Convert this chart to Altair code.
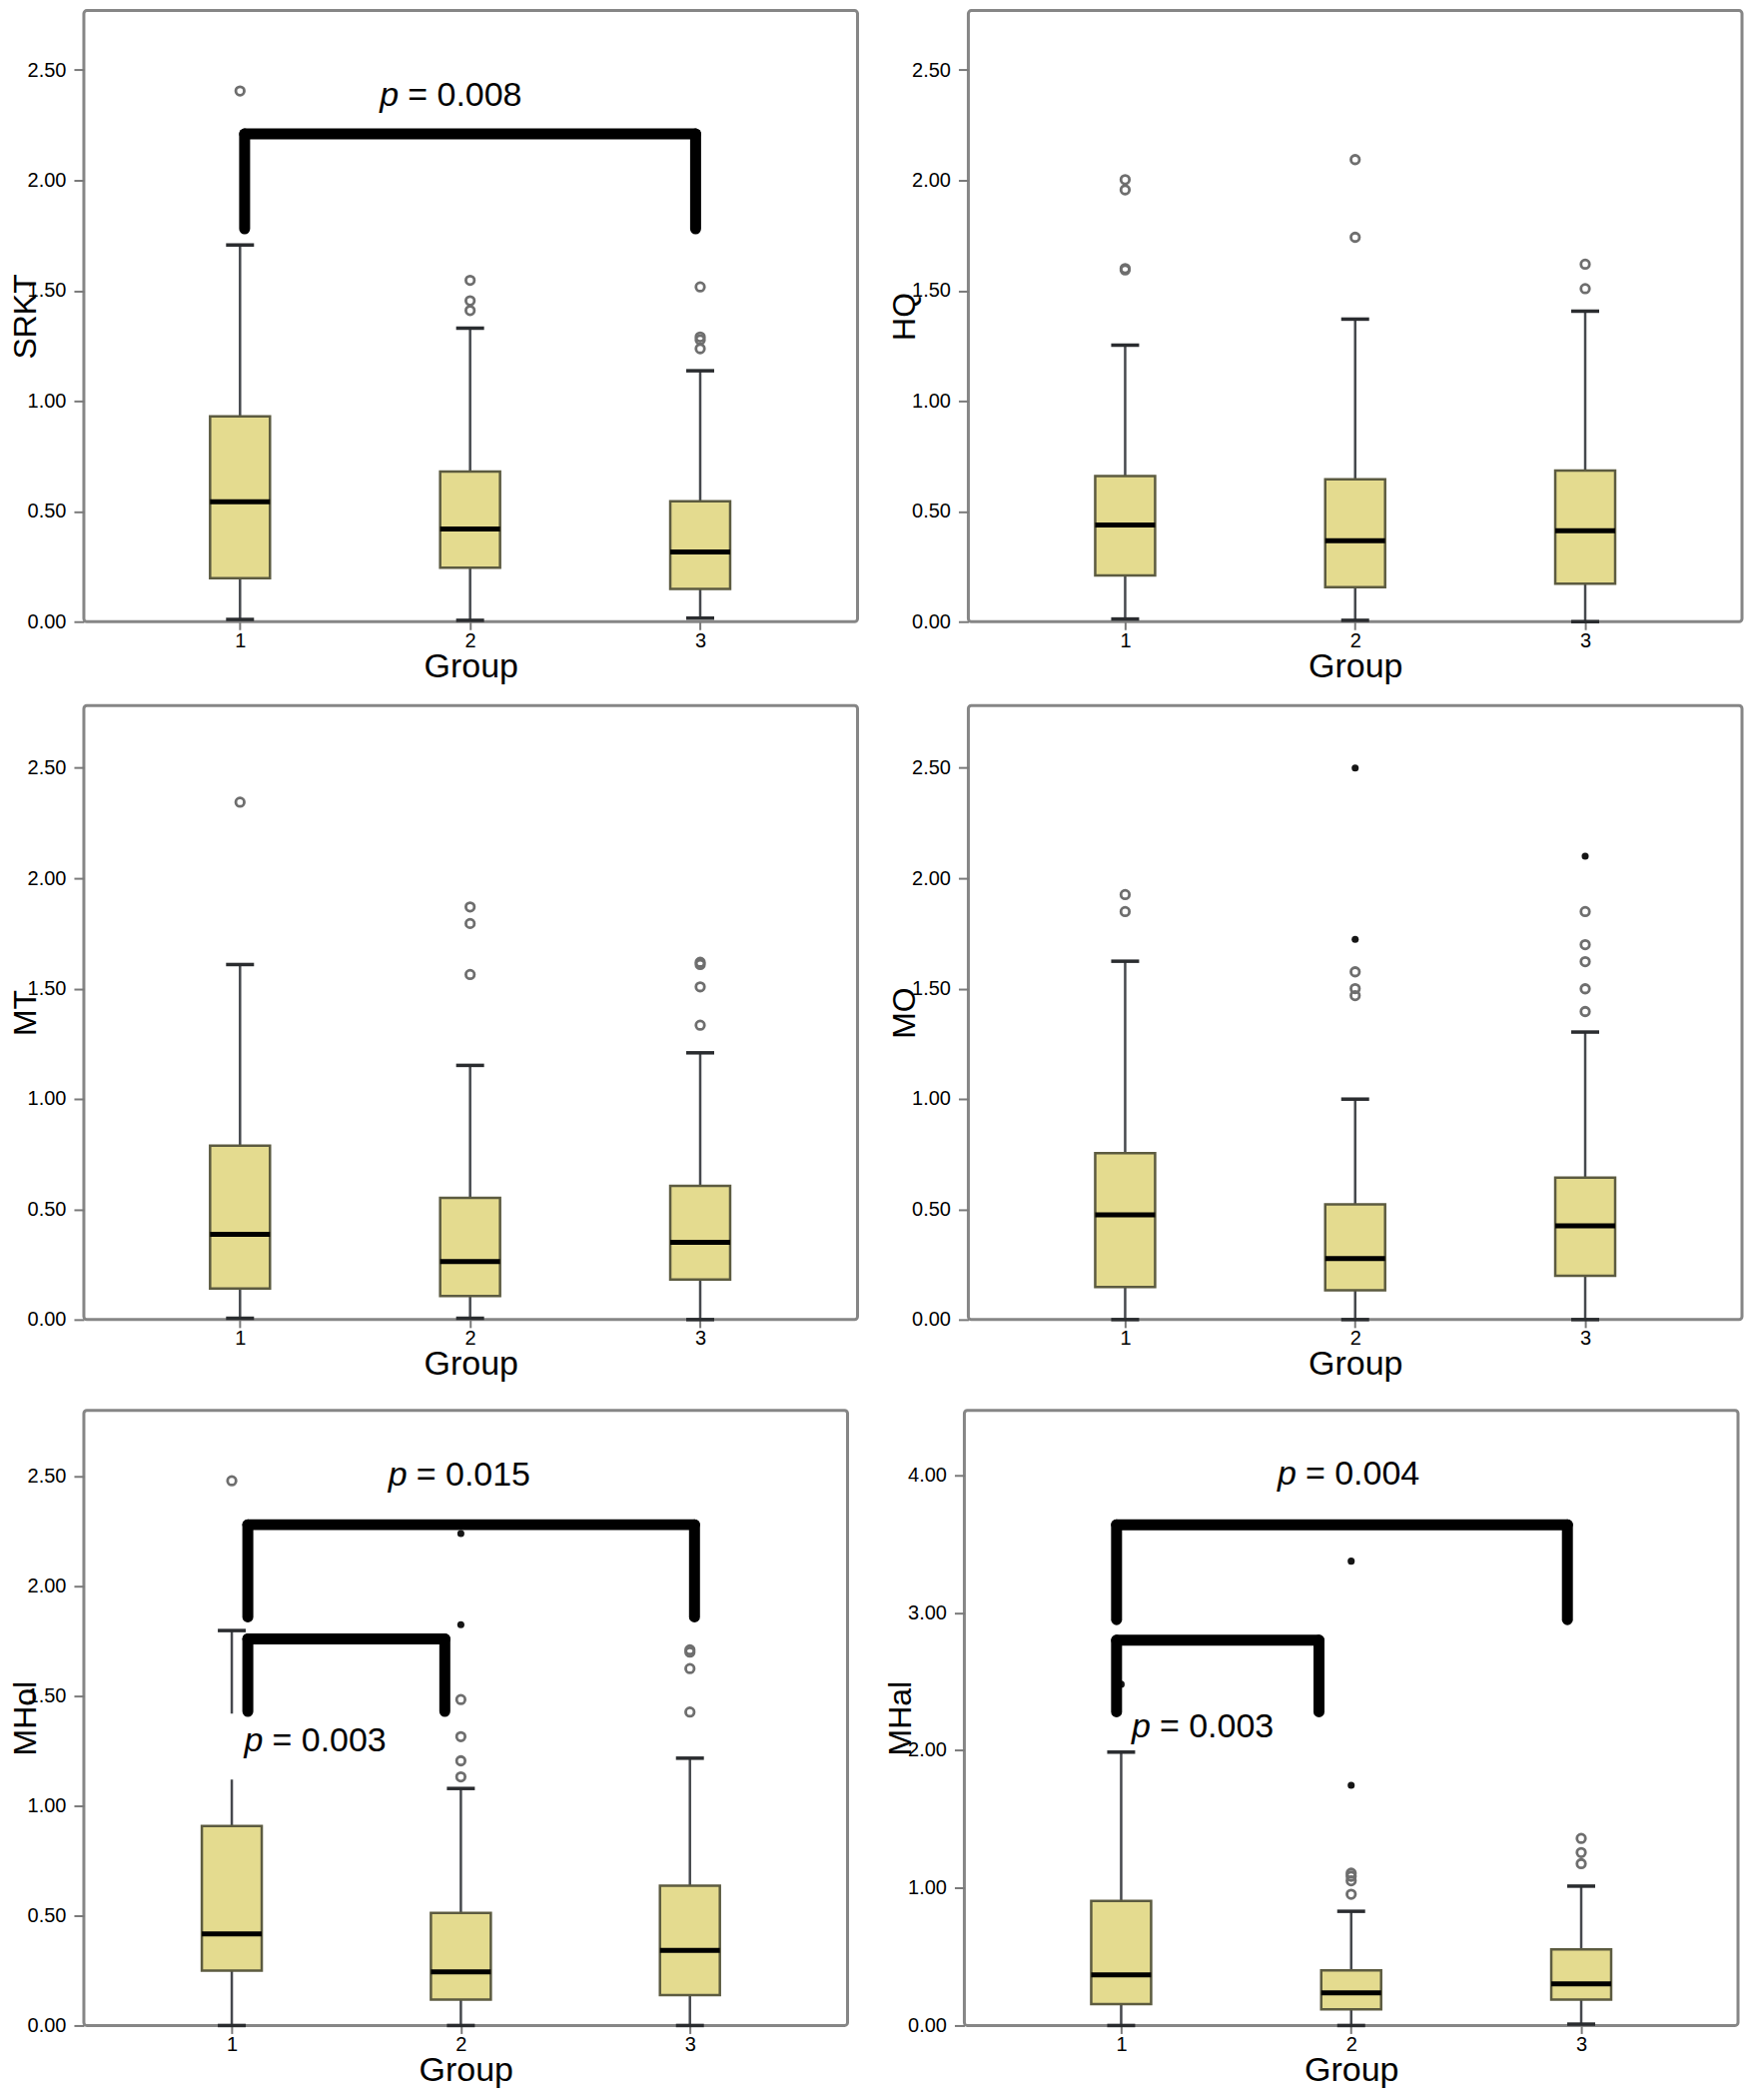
import altair as alt
import pandas as pd

GROUPS = [1, 2, 3]
NAMES = ["SRKT", "HQ", "MT", "MO", "MHol", "MHal"]

# box-plot statistics per panel (groups 1, 2, 3)
LOW = [[0.010, 0.006, 0.016], [0.012, 0.006, 0.000], [0.006, 0.006, 0.000],
       [0.000, 0.000, 0.000], [0.000, 0.000, 0.000], [0.000, 0.000, 0.010]]
Q1 = [[0.197, 0.245, 0.148], [0.209, 0.156, 0.172], [0.141, 0.107, 0.182],
      [0.148, 0.133, 0.198], [0.250, 0.118, 0.138], [0.156, 0.117, 0.189]]
MED = [[0.543, 0.420, 0.316], [0.438, 0.367, 0.412], [0.386, 0.263, 0.350],
       [0.475, 0.277, 0.425], [0.417, 0.244, 0.342], [0.368, 0.238, 0.303]]
Q3 = [[0.930, 0.680, 0.545], [0.660, 0.645, 0.685], [0.788, 0.552, 0.606],
      [0.754, 0.522, 0.643], [0.908, 0.513, 0.637], [0.906, 0.400, 0.554]]
HIGH = [[1.707, 1.330, 1.137], [1.253, 1.371, 1.407], [1.609, 1.152, 1.209],
        [1.624, 0.999, 1.303], [1.798, 1.079, 1.217], [1.987, 0.830, 1.013]]

# outliers (open circles) and extremes (filled dots)
OUTLIERS = [
    [[2.405], [1.547, 1.454, 1.410], [1.517, 1.290, 1.277, 1.237]],
    [[2.003, 1.957, 1.600, 1.594], [2.094, 1.742], [1.620, 1.509]],
    [[2.345], [1.870, 1.795, 1.564], [1.619, 1.609, 1.508, 1.334]],
    [[1.926, 1.849], [1.576, 1.500, 1.468], [1.849, 1.699, 1.622, 1.499, 1.396]],
    [[2.480], [1.484, 1.315, 1.205, 1.132], [1.710, 1.700, 1.625, 1.427]],
    [[], [1.107, 1.085, 1.052, 0.954], [1.360, 1.257, 1.176]],
]
EXTREMES = [
    [[], [], []],
    [[], [], []],
    [[], [], []],
    [[], [2.500, 1.723], [2.100]],
    [[], [2.240, 1.825], []],
    [[2.480], [3.375, 1.746], []],
]

# significance brackets
BR_PANEL = [0, 4, 4, 5, 5]
BR_X1 = [1.02, 1.07, 1.07, 0.98, 0.98]
BR_X2 = [2.98, 3.02, 1.93, 2.94, 1.86]
BR_TOP = [2.21, 2.28, 1.76, 3.64, 2.80]
BR_LEG = [1.78, 1.86, 1.43, 2.95, 2.28]

# p-value labels
PL_PANEL = [0, 4, 4, 5, 5]
PL_TEXT = ["= 0.008", "= 0.015", "= 0.003", "= 0.004", "= 0.003"]
PL_X = [1.69, 1.766, 1.137, 1.762, 1.128]
PL_Y = [2.336, 2.456, 1.246, 3.935, 2.095]

# white label background (MHol lower p label)
MASK_PANEL = [4]
MASK_X1 = [0.985]
MASK_X2 = [1.68]
MASK_Y1 = [1.12]
MASK_Y2 = [1.42]

FILL = "#e4db8f"
EDGE = "#5c5b40"
WHISK = "#45484d"
OUTC = "#6e6e6e"
FONT = "Liberation Sans"


def panel(k, width, height, ymax, ticks, title_x, xdom=(0.34, 3.66)):
    name = NAMES[k]
    xs = alt.Scale(domain=list(xdom), nice=False, zero=False)
    ys = alt.Scale(domain=[0, ymax], nice=False, zero=False)
    xax = alt.Axis(values=[1, 2, 3], format="d", title="Group")
    yax = alt.Axis(values=ticks, format=".2f", title=name,
                   titleX=title_x, titleY=height / 2)

    def X(f):
        return alt.X(f, type="quantitative", scale=xs, axis=xax)

    def Y(f):
        return alt.Y(f, type="quantitative", scale=ys, axis=yax)

    box = pd.DataFrame({"g": GROUPS, "low": LOW[k], "q1": Q1[k], "med": MED[k],
                        "q3": Q3[k], "high": HIGH[k]})
    base = alt.Chart(box)
    layers = [
        base.mark_rule(color=WHISK, strokeWidth=2.5).encode(x=X("g"), y=Y("low"), y2="q1"),
        base.mark_rule(color=WHISK, strokeWidth=2.5).encode(x=X("g"), y=Y("q3"), y2="high"),
        base.mark_tick(orient="horizontal", size=28, thickness=3.5, color="#2a2c2f", opacity=1).encode(x=X("g"), y=Y("low")),
        base.mark_tick(orient="horizontal", size=28, thickness=3.5, color="#2a2c2f", opacity=1).encode(x=X("g"), y=Y("high")),
        base.mark_bar(size=60, fill=FILL, stroke=EDGE, strokeWidth=2.5).encode(x=X("g"), y=Y("q1"), y2="q3"),
        base.mark_tick(orient="horizontal", size=60, thickness=5, color="black", opacity=1).encode(x=X("g"), y=Y("med")),
    ]
    og, ov = [], []
    for gi, vals in zip(GROUPS, OUTLIERS[k]):
        og += [gi] * len(vals)
        ov += vals
    if ov:
        layers.append(alt.Chart(pd.DataFrame({"g": og, "v": ov})).mark_point(
            shape="circle", filled=False, size=72, strokeWidth=2.8, color=OUTC, opacity=1
        ).encode(x=X("g"), y=Y("v")))
    eg, ev = [], []
    for gi, vals in zip(GROUPS, EXTREMES[k]):
        eg += [gi] * len(vals)
        ev += vals
    if ev:
        layers.append(alt.Chart(pd.DataFrame({"g": eg, "v": ev})).mark_point(
            shape="circle", filled=True, size=50, color="#151515", opacity=1
        ).encode(x=X("g"), y=Y("v")))
    mi = [i for i, p in enumerate(MASK_PANEL) if p == k]
    if mi:
        md = pd.DataFrame({"a": [MASK_X1[i] for i in mi], "b": [MASK_X2[i] for i in mi],
                           "c": [MASK_Y1[i] for i in mi], "d": [MASK_Y2[i] for i in mi]})
        layers.append(alt.Chart(md).mark_rect(fill="white").encode(
            x=X("a"), x2="b", y=Y("c"), y2="d"))
    bi = [i for i, p in enumerate(BR_PANEL) if p == k]
    if bi:
        bd = pd.DataFrame({"x1": [BR_X1[i] for i in bi], "x2": [BR_X2[i] for i in bi],
                           "top": [BR_TOP[i] for i in bi], "leg": [BR_LEG[i] for i in bi]})
        bb = alt.Chart(bd)
        rule = dict(color="black", strokeWidth=11, strokeCap="round")
        layers += [
            bb.mark_rule(**rule).encode(x=X("x1"), x2="x2", y=Y("top")),
            bb.mark_rule(**rule).encode(x=X("x1"), y=Y("leg"), y2="top"),
            bb.mark_rule(**rule).encode(x=X("x2"), y=Y("leg"), y2="top"),
        ]
    pi = [i for i, p in enumerate(PL_PANEL) if p == k]
    if pi:
        pdf = pd.DataFrame({"px": [PL_X[i] for i in pi], "py": [PL_Y[i] for i in pi],
                            "label": [PL_TEXT[i] for i in pi]})
        pb = alt.Chart(pdf)
        layers += [
            pb.mark_text(text="p", fontStyle="italic", align="right", baseline="alphabetic",
                         fontSize=34, font=FONT, color="black").encode(x=X("px"), y=Y("py")),
            pb.mark_text(align="left", baseline="alphabetic", dx=9, fontSize=34, font=FONT,
                         color="black").encode(x=X("px"), y=Y("py"), text="label:N"),
        ]
    return alt.layer(*layers).properties(width=width, height=height)


T25 = [0, 0.5, 1.0, 1.5, 2.0, 2.5]
p0 = panel(0, 775, 612, 612 / 221.0, T25, -48, xdom=(0.343, 0.343 + 775 / 233.5))
p1 = panel(1, 775, 612, 612 / 221.0, T25, -54)
p2 = panel(2, 775, 615, 615 / 221.0, T25, -48, xdom=(0.343, 0.343 + 775 / 233.5))
p3 = panel(3, 775, 615, 615 / 221.0, T25, -54)
p4 = panel(4, 765, 616, 616 / 220.0, T25, -48, xdom=(0.376, 0.376 + 765 / 232.5))
p5 = panel(5, 775, 616, 616 / 137.8, [0, 1, 2, 3, 4], -54)

row1 = alt.hconcat(p0, p1, spacing=27)
row2 = alt.hconcat(p2, p3, spacing=27)
row3 = alt.hconcat(p4, p5, spacing=33)
upper = alt.vconcat(row1, row2, spacing=18)

chart = alt.vconcat(upper, row3, spacing=25).properties(
    padding={"left": 0, "top": 0, "right": 0, "bottom": 0}
).configure_view(
    stroke="#868686", strokeWidth=3, cornerRadius=3
).configure_axis(
    grid=False, domain=False, labelFont=FONT, titleFont=FONT, labelColor="black",
    titleColor="black", tickColor="#7a7a7a", tickWidth=2, titleFontWeight="normal"
).configure_axisX(
    tickSize=8, labelFontSize=20, labelPadding=1, titleFontSize=34, titlePadding=-1, labelAngle=0
).configure_axisY(
    tickSize=10, labelFontSize=20, labelPadding=8, titleFontSize=32, titleAngle=270,
    titleBaseline="alphabetic", titleAlign="center"
)

chart.save("out.html", embed_options={"renderer": "svg", "actions": False})
